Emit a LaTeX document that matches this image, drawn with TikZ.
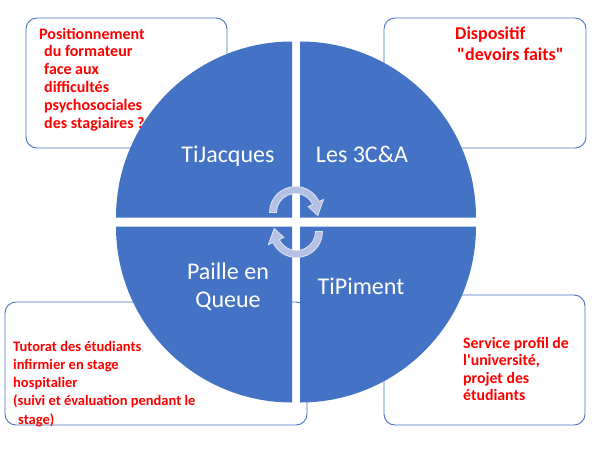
\documentclass[tikz,border=0pt]{standalone}
\usepackage{fontspec}
\setmainfont{Carlito}
\usetikzlibrary{calc}
\definecolor{qblue}{HTML}{4472C4}
\definecolor{arrfill}{RGB}{180,193,228}
\definecolor{arredge}{RGB}{222,228,244}
\begin{document}
\begin{tikzpicture}[x=1pt,y=-1pt,
  box/.style={draw=qblue, line width=0.9pt, rounded corners=11pt, fill=white},
  quad/.style={fill=qblue},
  lbl/.style={text=white, inner sep=0, anchor=base},
  note/.style={text=red, inner sep=0, anchor=base west},
  cyc/.style={fill=arrfill, draw=arredge, line width=0.8pt, line join=miter}]
\useasboundingbox (0,0) rectangle (604,453);
\fill[white] (0,0) rectangle (604,453);
% boxes
\draw[box] (26,18) rectangle (227,148);
\draw[box] (384,18) rectangle (586,148);
\draw[box] (5,302) rectangle (307,425);
\draw[box] (384,295) rectangle (585,425);
% quadrants
\fill[quad] (292,217.5) -- ++(-176,0) arc[start angle=180,end angle=270,radius=176] -- cycle;
\fill[quad] (300,217.5) -- ++(176,0) arc[start angle=360,end angle=270,radius=176] -- cycle;
\fill[quad] (292,226.5) -- ++(-176,0) arc[start angle=180,end angle=90,radius=176] -- cycle;
\fill[quad] (300,226.5) -- ++(176,0) arc[start angle=0,end angle=90,radius=176] -- cycle;
% cycle arrows
\coordinate (c1) at (295.5,212.5);
\coordinate (c2) at (296.5,231.5);
\path[cyc] ($(c1)+(180:26)$) arc[start angle=180,end angle=335,radius=26]
  -- ($(c1)+(335:31)$) -- ($(c1)+(8:22.5)$) -- ($(c1)+(335:14)$) -- ($(c1)+(335:19)$)
  arc[start angle=335,end angle=180,radius=19] -- cycle;
\path[cyc] ($(c2)+(0:26)$) arc[start angle=0,end angle=155,radius=26]
  -- ($(c2)+(155:31)$) -- ($(c2)+(188:22.5)$) -- ($(c2)+(155:14)$) -- ($(c2)+(155:19)$)
  arc[start angle=155,end angle=0,radius=19] -- cycle;
% quadrant labels
\node[lbl, font=\fontsize{24}{28}\selectfont] (tj) at (228,162) {TiJacques};
\node[lbl, font=\fontsize{24}{28}\selectfont] (l3) at (362,162) {Les 3C\&A};
\node[lbl, font=\fontsize{24}{28}\selectfont] (pq) at (228,307) {\begin{tabular}[b]{@{}c@{}}Paille en\\Queue\end{tabular}};
\node[lbl, font=\fontsize{24}{28}\selectfont] (tp) at (361,294) {TiPiment};
% notes
\node[note, font=\bfseries\fontsize{16}{17.8}\selectfont] (n1) at (39,39) {\begin{tabular}[t]{@{}l@{}}Positionnement\\\hspace{5pt}du formateur\\\hspace{5pt}face aux\\\hspace{5pt}difficultés\\\hspace{5pt}psychosociales\\\hspace{5pt}des stagiaires ?\end{tabular}};
\node[note, font=\bfseries\fontsize{18}{21}\selectfont] (n2) at (455,39) {\begin{tabular}[t]{@{}l@{}}Dispositif\\\hspace{2pt}\textquotedbl devoirs faits\textquotedbl\end{tabular}};
\node[note, font=\bfseries\fontsize{14.5}{18.3}\selectfont] (n3) at (13,351) {\begin{tabular}[t]{@{}l@{}}Tutorat des étudiants\\infirmier en stage\\hospitalier\\(suivi et évaluation pendant le\\\hspace{5pt}stage)\end{tabular}};
\node[note, font=\bfseries\fontsize{15.8}{17.5}\selectfont] (n4) at (463,348) {\begin{tabular}[t]{@{}l@{}}Service profil de\\l\textquotesingle université,\\projet des\\étudiants\end{tabular}};
\end{tikzpicture}
\end{document}
